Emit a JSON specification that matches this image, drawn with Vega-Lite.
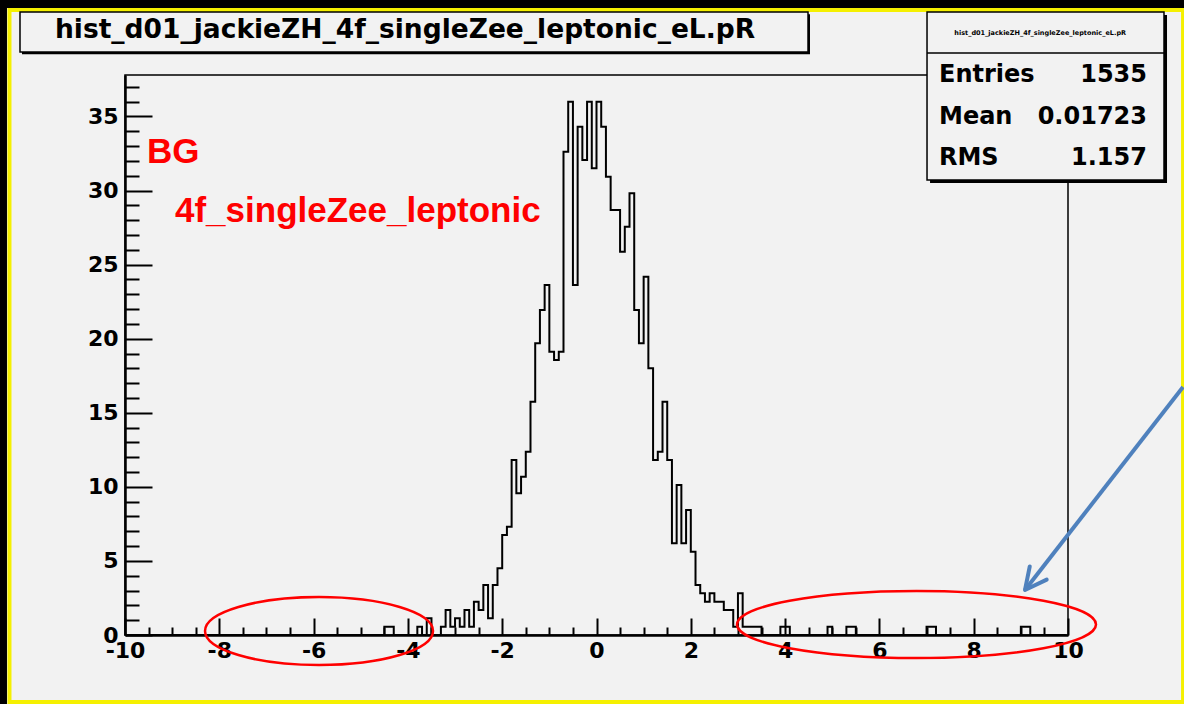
{
  "$schema": "https://vega.github.io/schema/vega-lite/v6.json",
  "width": 943,
  "height": 560,
  "autosize": "none",
  "padding": {"left": 125, "top": 75, "right": 116, "bottom": 69},
  "background": "#f2f2f2",
  "config": {
    "view": {"stroke": "black", "strokeWidth": 1.5},
    "font": "DejaVu Sans"
  },
  "datasets": {
    "hist": [
      {"x": -9.95, "y": 0}, {"x": -9.85, "y": 0}, {"x": -9.75, "y": 0}, {"x": -9.65, "y": 0}, {"x": -9.55, "y": 0},
      {"x": -9.45, "y": 0}, {"x": -9.35, "y": 0}, {"x": -9.25, "y": 0}, {"x": -9.15, "y": 0}, {"x": -9.05, "y": 0},
      {"x": -8.95, "y": 0}, {"x": -8.85, "y": 0}, {"x": -8.75, "y": 0}, {"x": -8.65, "y": 0}, {"x": -8.55, "y": 0},
      {"x": -8.45, "y": 0}, {"x": -8.35, "y": 0}, {"x": -8.25, "y": 0}, {"x": -8.15, "y": 0}, {"x": -8.05, "y": 0},
      {"x": -7.95, "y": 0}, {"x": -7.85, "y": 0}, {"x": -7.75, "y": 0}, {"x": -7.65, "y": 0}, {"x": -7.55, "y": 0},
      {"x": -7.45, "y": 0}, {"x": -7.35, "y": 0}, {"x": -7.25, "y": 0}, {"x": -7.15, "y": 0}, {"x": -7.05, "y": 0},
      {"x": -6.95, "y": 0}, {"x": -6.85, "y": 0}, {"x": -6.75, "y": 0}, {"x": -6.65, "y": 0}, {"x": -6.55, "y": 0},
      {"x": -6.45, "y": 0}, {"x": -6.35, "y": 0}, {"x": -6.25, "y": 0}, {"x": -6.15, "y": 0}, {"x": -6.05, "y": 0},
      {"x": -5.95, "y": 0}, {"x": -5.85, "y": 0}, {"x": -5.75, "y": 0}, {"x": -5.65, "y": 0}, {"x": -5.55, "y": 0},
      {"x": -5.45, "y": 0}, {"x": -5.35, "y": 0}, {"x": -5.25, "y": 0}, {"x": -5.15, "y": 0}, {"x": -5.05, "y": 0},
      {"x": -4.95, "y": 0}, {"x": -4.85, "y": 0}, {"x": -4.75, "y": 0}, {"x": -4.65, "y": 0}, {"x": -4.55, "y": 0},
      {"x": -4.45, "y": 0.5625}, {"x": -4.35, "y": 0.5625}, {"x": -4.25, "y": 0}, {"x": -4.15, "y": 0}, {"x": -4.05, "y": 0},
      {"x": -3.95, "y": 0}, {"x": -3.85, "y": 0}, {"x": -3.75, "y": 0.5625}, {"x": -3.65, "y": 0}, {"x": -3.55, "y": 1.125},
      {"x": -3.45, "y": 0}, {"x": -3.35, "y": 0}, {"x": -3.25, "y": 0.5625}, {"x": -3.15, "y": 1.6875}, {"x": -3.05, "y": 0.5625},
      {"x": -2.95, "y": 1.125}, {"x": -2.85, "y": 0.5625}, {"x": -2.75, "y": 1.6875}, {"x": -2.65, "y": 0.5625}, {"x": -2.55, "y": 2.25},
      {"x": -2.45, "y": 1.6875}, {"x": -2.35, "y": 3.375}, {"x": -2.25, "y": 1.125}, {"x": -2.15, "y": 3.375}, {"x": -2.05, "y": 4.5},
      {"x": -1.95, "y": 6.75}, {"x": -1.85, "y": 7.3125}, {"x": -1.75, "y": 11.8125}, {"x": -1.65, "y": 9.5625}, {"x": -1.55, "y": 10.6875},
      {"x": -1.45, "y": 12.375}, {"x": -1.35, "y": 15.75}, {"x": -1.25, "y": 19.6875}, {"x": -1.15, "y": 21.9375}, {"x": -1.05, "y": 23.625},
      {"x": -0.95, "y": 19.125}, {"x": -0.85, "y": 18.5625}, {"x": -0.75, "y": 19.125}, {"x": -0.65, "y": 32.625}, {"x": -0.55, "y": 36},
      {"x": -0.45, "y": 23.625}, {"x": -0.35, "y": 34.3125}, {"x": -0.25, "y": 32.0625}, {"x": -0.15, "y": 36}, {"x": -0.05, "y": 31.5},
      {"x": 0.05, "y": 36}, {"x": 0.15, "y": 34.3125}, {"x": 0.25, "y": 30.9375}, {"x": 0.35, "y": 28.6875}, {"x": 0.45, "y": 28.6875},
      {"x": 0.55, "y": 25.875}, {"x": 0.65, "y": 27.5625}, {"x": 0.75, "y": 29.8125}, {"x": 0.85, "y": 21.9375}, {"x": 0.95, "y": 19.6875},
      {"x": 1.05, "y": 24.1875}, {"x": 1.15, "y": 18}, {"x": 1.25, "y": 11.8125}, {"x": 1.35, "y": 12.375}, {"x": 1.45, "y": 15.75},
      {"x": 1.55, "y": 11.8125}, {"x": 1.65, "y": 6.1875}, {"x": 1.75, "y": 10.125}, {"x": 1.85, "y": 6.1875}, {"x": 1.95, "y": 8.4375},
      {"x": 2.05, "y": 5.625}, {"x": 2.15, "y": 3.375}, {"x": 2.25, "y": 2.8125}, {"x": 2.35, "y": 2.25}, {"x": 2.45, "y": 2.8125},
      {"x": 2.55, "y": 2.25}, {"x": 2.65, "y": 2.25}, {"x": 2.75, "y": 1.6875}, {"x": 2.85, "y": 1.6875}, {"x": 2.95, "y": 0.5625},
      {"x": 3.05, "y": 2.8125}, {"x": 3.15, "y": 0.5625}, {"x": 3.25, "y": 0.5625}, {"x": 3.35, "y": 0.5625}, {"x": 3.45, "y": 0.5625},
      {"x": 3.55, "y": 0}, {"x": 3.65, "y": 0}, {"x": 3.75, "y": 0}, {"x": 3.85, "y": 0}, {"x": 3.95, "y": 0.5625},
      {"x": 4.05, "y": 0.5625}, {"x": 4.15, "y": 0}, {"x": 4.25, "y": 0}, {"x": 4.35, "y": 0}, {"x": 4.45, "y": 0},
      {"x": 4.55, "y": 0}, {"x": 4.65, "y": 0}, {"x": 4.75, "y": 0}, {"x": 4.85, "y": 0}, {"x": 4.95, "y": 0.5625},
      {"x": 5.05, "y": 0}, {"x": 5.15, "y": 0}, {"x": 5.25, "y": 0}, {"x": 5.35, "y": 0.5625}, {"x": 5.45, "y": 0.5625},
      {"x": 5.55, "y": 0}, {"x": 5.65, "y": 0}, {"x": 5.75, "y": 0}, {"x": 5.85, "y": 0}, {"x": 5.95, "y": 0},
      {"x": 6.05, "y": 0}, {"x": 6.15, "y": 0}, {"x": 6.25, "y": 0}, {"x": 6.35, "y": 0}, {"x": 6.45, "y": 0},
      {"x": 6.55, "y": 0}, {"x": 6.65, "y": 0}, {"x": 6.75, "y": 0}, {"x": 6.85, "y": 0}, {"x": 6.95, "y": 0},
      {"x": 7.05, "y": 0.5625}, {"x": 7.15, "y": 0.5625}, {"x": 7.25, "y": 0}, {"x": 7.35, "y": 0}, {"x": 7.45, "y": 0},
      {"x": 7.55, "y": 0}, {"x": 7.65, "y": 0}, {"x": 7.75, "y": 0}, {"x": 7.85, "y": 0}, {"x": 7.95, "y": 0},
      {"x": 8.05, "y": 0}, {"x": 8.15, "y": 0}, {"x": 8.25, "y": 0}, {"x": 8.35, "y": 0}, {"x": 8.45, "y": 0},
      {"x": 8.55, "y": 0}, {"x": 8.65, "y": 0}, {"x": 8.75, "y": 0}, {"x": 8.85, "y": 0}, {"x": 8.95, "y": 0},
      {"x": 9.05, "y": 0.5625}, {"x": 9.15, "y": 0.5625}, {"x": 9.25, "y": 0}, {"x": 9.35, "y": 0}, {"x": 9.45, "y": 0},
      {"x": 9.55, "y": 0}, {"x": 9.65, "y": 0}, {"x": 9.75, "y": 0}, {"x": 9.85, "y": 0}, {"x": 9.95, "y": 0}
    ],
    "pageStrips": [
      {"x": -12.7, "x2": 12.6, "y": 42.32, "y2": 43.0},
      {"x": -12.7, "x2": -12.503, "y": -4.8, "y2": 43.0}
    ],
    "pageFrame": [{"x": -12.45, "x2": 12.44, "y": 42.19, "y2": -4.52}],
    "titleShadow": [{"x": -12.185, "x2": 4.528, "y": 39.2, "y2": 41.9}],
    "titleBox": [{"x": -12.227, "x2": 4.486, "y": 39.35, "y2": 42.05}],
    "titleText": [{"x": -11.485, "y": 40.3, "text": "hist_d01_jackieZH_4f_singleZee_leptonic_eL.pR"}],
    "statsShadow": [{"x": 7.074, "x2": 12.1, "y": 30.51, "y2": 41.85}],
    "statsBox": [{"x": 7.01, "x2": 12.036, "y": 30.71, "y2": 42.05}],
    "statsDivider": [{"x": 7.01, "x2": 12.036, "y": 39.28, "y2": 39.28}],
    "statsName": [{"x": 9.41, "y": 40.63, "text": "hist_d01_jackieZH_4f_singleZee_leptonic_eL.pR"}],
    "statsLabels": [
      {"x": 7.264, "y": 37.8, "text": "Entries"},
      {"x": 7.264, "y": 34.96, "text": "Mean"},
      {"x": 7.264, "y": 32.2, "text": "RMS"}
    ],
    "statsValues": [
      {"x": 11.675, "y": 37.8, "text": "1535"},
      {"x": 11.675, "y": 34.96, "text": "0.01723"},
      {"x": 11.675, "y": 32.2, "text": "1.157"}
    ],
    "notes": [
      {"x": -9.533, "y": 31.86, "text": "BG"},
      {"x": -8.94, "y": 27.88, "text": "4f_singleZee_leptonic"}
    ],
    "leftRing": [{"x": -5.885, "y": 0.27}],
    "rightRing": [{"x": 6.787, "y": 0.709}],
    "arrowShaft": [{"x": 12.44, "y": 16.74, "x2": 9.088, "y2": 3.04}],
    "arrowTip": [{"x": 9.088, "y": 3.04}]
  },
  "encoding": {
    "x": {
      "field": "x",
      "type": "quantitative",
      "scale": {"domain": [-10, 10], "nice": false, "zero": false},
      "axis": {
        "title": null,
        "grid": false,
        "values": [-10, -9.5, -9, -8.5, -8, -7.5, -7, -6.5, -6, -5.5, -5, -4.5, -4, -3.5, -3, -2.5, -2, -1.5, -1, -0.5, 0, 0.5, 1, 1.5, 2, 2.5, 3, 3.5, 4, 4.5, 5, 5.5, 6, 6.5, 7, 7.5, 8, 8.5, 9, 9.5, 10],
        "tickSize": {"condition": {"test": "datum.value % 2 === 0", "value": -17}, "value": -8},
        "tickColor": "black",
        "tickWidth": 2,
        "domainColor": "black",
        "domainWidth": 2.5,
        "labelExpr": "datum.value % 2 === 0 ? '' + datum.value : ''",
        "labelFont": "DejaVu Sans",
        "labelFontWeight": "bold",
        "labelFontSize": 22,
        "labelColor": "black",
        "labelPadding": 22,
        "labelOverlap": false,
        "labelFlush": false
      }
    },
    "y": {
      "field": "y",
      "type": "quantitative",
      "scale": {"domain": [0, 37.8], "nice": false, "zero": true},
      "axis": {
        "title": null,
        "grid": false,
        "values": [0, 1, 2, 3, 4, 5, 6, 7, 8, 9, 10, 11, 12, 13, 14, 15, 16, 17, 18, 19, 20, 21, 22, 23, 24, 25, 26, 27, 28, 29, 30, 31, 32, 33, 34, 35, 36, 37],
        "tickSize": {"condition": {"test": "datum.value % 5 === 0", "value": -27}, "value": -14},
        "tickColor": "black",
        "tickWidth": 2,
        "domainColor": "black",
        "domainWidth": 2.5,
        "labelExpr": "datum.value % 5 === 0 ? '' + datum.value : ''",
        "labelFont": "DejaVu Sans",
        "labelFontWeight": "bold",
        "labelFontSize": 22,
        "labelColor": "black",
        "labelPadding": 34,
        "labelOverlap": false,
        "labelFlush": false
      }
    }
  },
  "layer": [
    {
      "data": {"name": "hist"},
      "mark": {"type": "line", "interpolate": "step", "color": "black", "strokeWidth": 2}
    },
    {
      "data": {"name": "pageStrips"},
      "mark": {"type": "rect", "color": "black"},
      "encoding": {"x2": {"field": "x2"}, "y2": {"field": "y2"}}
    },
    {
      "data": {"name": "pageFrame"},
      "mark": {"type": "rect", "filled": false, "stroke": "#f5f000", "strokeWidth": 4},
      "encoding": {"x2": {"field": "x2"}, "y2": {"field": "y2"}}
    },
    {
      "data": {"name": "titleShadow"},
      "mark": {"type": "rect", "color": "black"},
      "encoding": {"x2": {"field": "x2"}, "y2": {"field": "y2"}}
    },
    {
      "data": {"name": "titleBox"},
      "mark": {"type": "rect", "fill": "#f2f2f2", "stroke": "black", "strokeWidth": 1.5},
      "encoding": {"x2": {"field": "x2"}, "y2": {"field": "y2"}}
    },
    {
      "data": {"name": "titleText"},
      "mark": {"type": "text", "align": "left", "baseline": "alphabetic", "font": "DejaVu Sans", "fontWeight": "bold", "fontSize": 26.5, "color": "black"},
      "encoding": {"text": {"field": "text"}}
    },
    {
      "data": {"name": "statsShadow"},
      "mark": {"type": "rect", "color": "black"},
      "encoding": {"x2": {"field": "x2"}, "y2": {"field": "y2"}}
    },
    {
      "data": {"name": "statsBox"},
      "mark": {"type": "rect", "fill": "#f2f2f2", "stroke": "black", "strokeWidth": 1.5},
      "encoding": {"x2": {"field": "x2"}, "y2": {"field": "y2"}}
    },
    {
      "data": {"name": "statsDivider"},
      "mark": {"type": "rule", "color": "black", "strokeWidth": 1.5},
      "encoding": {"x2": {"field": "x2"}, "y2": {"field": "y2"}}
    },
    {
      "data": {"name": "statsName"},
      "mark": {"type": "text", "align": "center", "baseline": "middle", "font": "DejaVu Sans", "fontWeight": "bold", "fontSize": 6.5, "color": "black"},
      "encoding": {"text": {"field": "text"}}
    },
    {
      "data": {"name": "statsLabels"},
      "mark": {"type": "text", "align": "left", "baseline": "middle", "font": "DejaVu Sans", "fontWeight": "bold", "fontSize": 24, "color": "black"},
      "encoding": {"text": {"field": "text"}}
    },
    {
      "data": {"name": "statsValues"},
      "mark": {"type": "text", "align": "right", "baseline": "middle", "font": "DejaVu Sans", "fontWeight": "bold", "fontSize": 24, "color": "black"},
      "encoding": {"text": {"field": "text"}}
    },
    {
      "data": {"name": "notes"},
      "mark": {"type": "text", "align": "left", "baseline": "alphabetic", "font": "Liberation Sans", "fontWeight": "bold", "fontSize": 35, "color": "#ff0000"},
      "encoding": {"text": {"field": "text"}}
    },
    {
      "data": {"name": "leftRing"},
      "mark": {"type": "point", "filled": false, "opacity": 1, "stroke": "#ff0000", "strokeWidth": 2.5, "size": 51984,
        "shape": "M -1 0 C -1 -0.1646 -0.5523 -0.298 0 -0.298 C 0.5523 -0.298 1 -0.1646 1 0 C 1 0.1646 0.5523 0.298 0 0.298 C -0.5523 0.298 -1 0.1646 -1 0 Z"}
    },
    {
      "data": {"name": "rightRing"},
      "mark": {"type": "point", "filled": false, "opacity": 1, "stroke": "#ff0000", "strokeWidth": 2.5, "size": 128881,
        "shape": "M -1 0 C -1 -0.1031 -0.5523 -0.1866 0 -0.1866 C 0.5523 -0.1866 1 -0.1031 1 0 C 1 0.1031 0.5523 0.1866 0 0.1866 C -0.5523 0.1866 -1 0.1031 -1 0 Z"}
    },
    {
      "data": {"name": "arrowShaft"},
      "mark": {"type": "rule", "color": "#4f81bd", "strokeWidth": 4},
      "encoding": {"x2": {"field": "x2"}, "y2": {"field": "y2"}}
    },
    {
      "data": {"name": "arrowTip"},
      "mark": {"type": "point", "filled": false, "opacity": 1, "stroke": "#4f81bd", "strokeWidth": 4, "strokeCap": "round", "strokeJoin": "round", "size": 1849, "angle": 218,
        "shape": "M -0.5 1 L 0 0 L 0.5 1"}
    }
  ]
}
